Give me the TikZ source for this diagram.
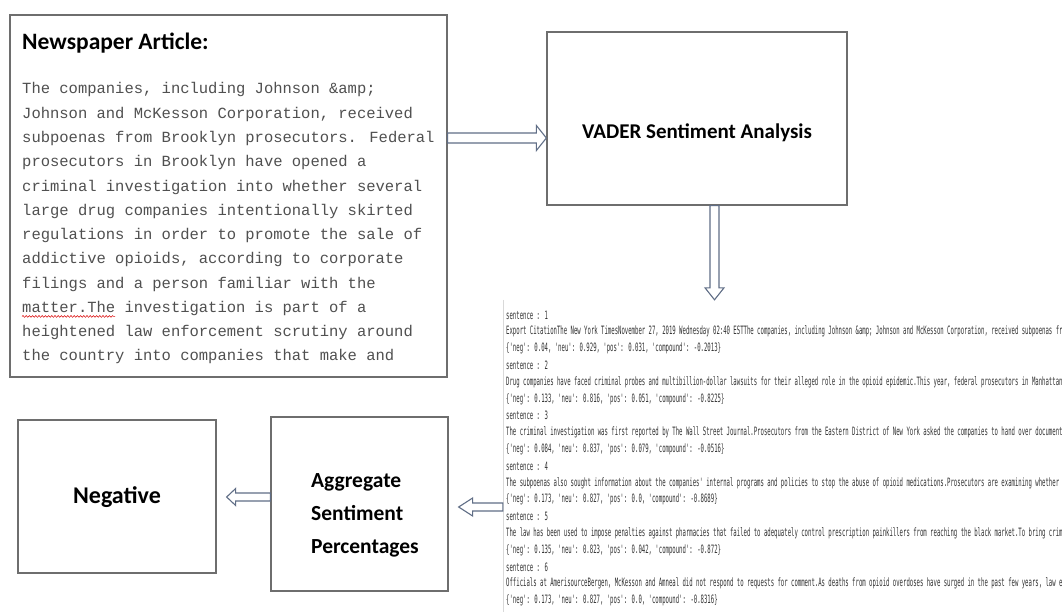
\documentclass[tikz,border=0pt]{standalone}
\usepackage{fontspec}
\usetikzlibrary{calc,decorations.pathmorphing}

\newfontfamily\headfont{Carlito}
\newfontfamily\articlefont{Liberation Mono}
\newfontfamily\logfont[FakeStretch=0.49]{DejaVu Sans Mono}

\definecolor{boxgray}{RGB}{110,110,110}
\definecolor{arrowblue}{RGB}{96,110,134}
\definecolor{articletext}{RGB}{80,80,80}
\definecolor{logtext}{RGB}{50,50,50}

% Hollow block arrow from #1 to the tip #2:
% #3 half shaft width, #4 half head width, #5 head length
\newcommand\hollowarrow[5]{%
  \coordinate (hb) at ($(#2)!#5!(#1)$);
  \draw[blockarrow] ($(#1)!#3!90:(#2)$) -- ($(hb)!#3!90:(#2)$) -- ($(hb)!#4!90:(#2)$) -- (#2)
    -- ($(hb)!#4!-90:(#2)$) -- ($(hb)!#3!-90:(#2)$) -- ($(#1)!#3!-90:(#2)$) -- cycle;}

\begin{document}
\begin{tikzpicture}[x=1pt,y=-1pt,
  panel/.style={draw=boxgray,line width=1.3pt,fill=white,inner sep=0pt},
  blockarrow/.style={draw=arrowblue,line width=1.1pt,fill=white,line join=miter},
  heading/.style={font=\headfont\bfseries\fontsize{23.5}{27}\selectfont,inner sep=0pt},
  label/.style={font=\headfont\bfseries\fontsize{21.5}{26}\selectfont,inner sep=0pt},
  bodyline/.style={font=\articlefont\fontsize{15.5}{18}\selectfont,text=articletext,inner sep=0pt,anchor=base west},
  logline/.style={font=\logfont\fontsize{11.5}{13}\selectfont,text=logtext,inner sep=0pt,anchor=west}]

\useasboundingbox (0,0) rectangle (1062,612);
\fill[white] (0,0) rectangle (1062,612);

% boxes
\node[panel,minimum width=437pt,minimum height=362pt] (art) at (228.5,196) {};
\node[panel,minimum width=300pt,minimum height=173pt] (vader) at (697,118.5) {};
\node[panel,minimum width=198pt,minimum height=153pt] (neg) at (117,496.5) {};
\node[panel,minimum width=177pt,minimum height=174pt] (agg) at (359.5,504) {};
\node[inner sep=0pt,minimum width=559pt,minimum height=312pt] (log) at (782.5,456) {};
\draw[gray!30,line width=0.6pt] (log.north west) -- (log.south west);

% newspaper article
\node[heading,anchor=base west] (arttitle) at (22,50) {Newspaper Article:};
\foreach \txt [count=\i from 0] in {
  {The companies, including Johnson \&amp;},
  {Johnson and McKesson Corporation, received},
  {subpoenas from Brooklyn prosecutors. Federal},
  {prosecutors in Brooklyn have opened a},
  {criminal investigation into whether several},
  {large drug companies intentionally skirted},
  {regulations in order to promote the sale of},
  {addictive opioids, according to corporate},
  {filings and a person familiar with the},
  {matter.The investigation is part of a},
  {heightened law enforcement scrutiny around},
  {the country into companies that make and}}
  \node[bodyline] (artline\i) at (22,{94+24.27*\i}) {\txt};
\draw[red!85!black,line width=0.5pt,decorate,decoration={snake,amplitude=0.9pt,segment length=3.2pt}]
  (artline9.base west) ++(0,4) -- ++(93,0);

% processing steps
\node[heading,font=\headfont\bfseries\fontsize{21}{25}\selectfont,anchor=base] (vadertext) at (697,139) {VADER Sentiment Analysis};
\node[label,anchor=base west] (agg1) at (311,487) {Aggregate};
\node[label,anchor=base west] (agg2) at (311,520) {Sentiment};
\node[label,anchor=base west] (agg3) at (311,553) {Percentages};
\node[heading,font=\headfont\bfseries\fontsize{24}{28}\selectfont,anchor=base] (negtext) at (117,503) {Negative};

% sentence-level scores
\begin{scope}
\clip (log.north west) rectangle (log.south east);
\foreach \txt [count=\i from 0] in {
  {sentence : 1},
  {Export CitationThe New York TimesNovember 27, 2019 Wednesday 02:40 ESTThe companies, including Johnson \&amp; Johnson and McKesson Corporation, received subpoenas from Brooklyn},
  {\{'neg': 0.04, 'neu': 0.929, 'pos': 0.031, 'compound': -0.2013\}},
  {sentence : 2},
  {Drug companies have faced criminal probes and multibillion-dollar lawsuits for their alleged role in the opioid epidemic.This year, federal prosecutors in Manhattan and},
  {\{'neg': 0.133, 'neu': 0.816, 'pos': 0.051, 'compound': -0.8225\}},
  {sentence : 3},
  {The criminal investigation was first reported by The Wall Street Journal.Prosecutors from the Eastern District of New York asked the companies to hand over documents related},
  {\{'neg': 0.084, 'neu': 0.837, 'pos': 0.079, 'compound': -0.0516\}},
  {sentence : 4},
  {The subpoenas also sought information about the companies' internal programs and policies to stop the abuse of opioid medications.Prosecutors are examining whether the},
  {\{'neg': 0.173, 'neu': 0.827, 'pos': 0.0, 'compound': -0.8689\}},
  {sentence : 5},
  {The law has been used to impose penalties against pharmacies that failed to adequately control prescription painkillers from reaching the black market.To bring criminal},
  {\{'neg': 0.135, 'neu': 0.823, 'pos': 0.042, 'compound': -0.872\}},
  {sentence : 6},
  {Officials at AmerisourceBergen, McKesson and Amneal did not respond to requests for comment.As deaths from opioid overdoses have surged in the past few years, law enforcement},
  {\{'neg': 0.173, 'neu': 0.827, 'pos': 0.0, 'compound': -0.8316\}}}
  \node[logline] (logline\i) at (506,{315+16.8*\i}) {\txt};
\end{scope}

% connectors
\coordinate (r1) at (0,138);
\coordinate (a1s) at (art.east |- r1);
\coordinate (a1t) at (vader.west |- r1);
\hollowarrow{a1s}{a1t}{5pt}{12.5pt}{10pt}

\coordinate (c2) at (714.5,0);
\coordinate (a2s) at (vader.south -| c2);
\coordinate (a2t) at (log.north -| c2);
\hollowarrow{a2s}{a2t}{4.5pt}{9.5pt}{12pt}

\coordinate (r3) at (0,507);
\coordinate (a3s) at (log.west |- r3);
\coordinate (a3t) at ($(agg.east |- r3)+(10,0)$);
\hollowarrow{a3s}{a3t}{4pt}{9pt}{14pt}

\coordinate (r4) at (0,497);
\coordinate (a4s) at (agg.west |- r4);
\coordinate (a4t) at ($(neg.east |- r4)+(10,0)$);
\hollowarrow{a4s}{a4t}{4pt}{8.5pt}{9pt}

\end{tikzpicture}
\end{document}
